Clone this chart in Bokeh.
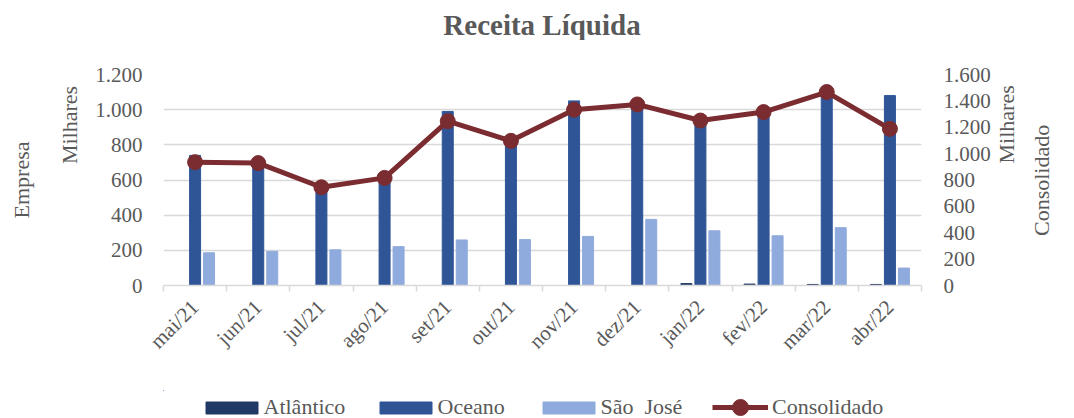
import math
from bokeh.plotting import figure
from bokeh.layouts import column
from bokeh.models import (Range1d, LinearAxis, FixedTicker, CustomJSTickFormatter,
                          Legend, LegendItem, ColumnDataSource, Label)
from bokeh.transform import dodge
from bokeh.embed import file_html
from bokeh.resources import INLINE

months = ["mai/21", "jun/21", "jul/21", "ago/21", "set/21", "out/21",
          "nov/21", "dez/21", "jan/22", "fev/22", "mar/22", "abr/22"]
atlantico = [0, 0, 0, 0, 0, 0, 0, 0, 11, 8, 6, 6]
oceano = [740, 700, 570, 600, 990, 830, 1050, 1020, 945, 975, 1095, 1080]
sao_jose = [186, 194, 203, 221, 259, 261, 279, 376, 311, 283, 329, 99]
consolidado = [935, 928, 745, 816, 1246, 1097, 1333, 1373, 1251, 1315, 1467, 1188]
series_names = ["Atlântico", "Oceano", "São  José", "Consolidado"]
title_text = "Receita Líquida"

FONT = "Liberation Serif"
GREY = "#595959"
GRID = "#D9D9D9"
C_ATL = "#203864"
C_OCE = "#2F5597"
C_SJ = "#8FAADC"
C_CON = "#7B2C30"

xs = list(range(len(months)))
src = ColumnDataSource(dict(x=xs, atl=atlantico, oce=oceano, sj=sao_jose, con=consolidado))

W = 1074
H_TIT, H_MAIN, H_LEG = 40, 350, 28
L, R, T, B = 163, 153, 34, 105
NBSP = "\u00a0"  # padding used to slide the rotated captions along their axis

# ---- title strip (text lies inside this strip's frame)
tf = figure(width=W, height=H_TIT, output_backend="svg", toolbar_location=None, title=None,
            x_range=Range1d(0, 1), y_range=Range1d(0, 1),
            min_border=0, x_axis_location=None, y_axis_location=None)
tf.outline_line_color = None
tf.grid.visible = False
tf.background_fill_color = "white"
tf.border_fill_color = "white"
tf.add_layout(Label(x=541.5 - L, y=16, x_units="screen", y_units="screen", text=title_text,
                    text_font=FONT, text_font_size="29px", text_font_style="bold",
                    text_color=GREY, text_align="center", text_baseline="alphabetic"))

# ---- main chart
p = figure(width=W, height=H_MAIN, output_backend="svg", toolbar_location=None, title=None,
           x_range=Range1d(-0.5, len(months) - 0.5), y_range=Range1d(0, 1200),
           min_border_left=L, min_border_right=R, min_border_top=T, min_border_bottom=B,
           x_axis_location=None, y_axis_location=None)
p.outline_line_color = None
p.background_fill_color = "white"
p.border_fill_color = "white"
p.extra_y_ranges = {"cons": Range1d(0, 1600)}

bw = 0.174
off = 0.2216
r_atl = p.vbar(x=dodge("x", -off), top="atl", width=bw, source=src, color=C_ATL)
r_oce = p.vbar(x="x", top="oce", width=bw, source=src, color=C_OCE)
r_sj = p.vbar(x=dodge("x", off), top="sj", width=bw, source=src, color=C_SJ)
r_line = p.line(x="x", y="con", source=src, y_range_name="cons", line_color=C_CON, line_width=5)
r_pts = p.scatter(x="x", y="con", source=src, y_range_name="cons", size=15,
                  fill_color=C_CON, line_color=C_CON)

fmt_code = "return Math.round(tick).toString().replace(/\\B(?=(\\d{3})+(?!\\d))/g, '.');"

def style_label(ax, size="22px"):
    ax.axis_label_text_font = FONT
    ax.axis_label_text_font_size = size
    ax.axis_label_text_color = GREY
    ax.axis_label_text_font_style = "normal"

def no_ticks(ax):
    ax.axis_line_color = None
    ax.major_tick_line_color = None
    ax.major_tick_out = 0
    ax.major_tick_in = 0
    ax.minor_tick_line_color = None
    ax.minor_tick_out = 0
    ax.minor_tick_in = 0

yl = LinearAxis(ticker=FixedTicker(ticks=list(range(0, 1201, 200))),
                formatter=CustomJSTickFormatter(code=fmt_code))
yr = LinearAxis(y_range_name="cons", ticker=FixedTicker(ticks=list(range(0, 1601, 200))),
                formatter=CustomJSTickFormatter(code=fmt_code))
for ax, st, lst, lab in ((yl, 21, 10, NBSP * 20 + "Milhares"),
                         (yr, 22, 13, NBSP * 3 + "Milhares")):
    no_ticks(ax)
    ax.major_label_text_font = FONT
    ax.major_label_text_font_size = "21px"
    ax.major_label_text_color = GREY
    ax.major_label_standoff = st
    ax.axis_label = lab
    ax.axis_label_standoff = lst
    style_label(ax)
yr.axis_label_orientation = math.pi / 2
p.add_layout(yl, "left")
p.add_layout(yr, "right")

def outer_axis(text, side, standoff, align="center"):
    ax = LinearAxis(ticker=FixedTicker(ticks=[]), axis_label=text,
                    y_range_name="default" if side == "left" else "cons")
    no_ticks(ax)
    ax.major_label_standoff = 0
    ax.axis_label_standoff = standoff
    ax.axis_label_align = align
    if side == "right":
        ax.axis_label_orientation = math.pi / 2
    style_label(ax)
    p.add_layout(ax, side)

outer_axis("Empresa", "left", 21)
outer_axis(NBSP * 9 + "Consolidado", "right", 7, align="start")

xa = LinearAxis(ticker=FixedTicker(ticks=xs, minor_ticks=[i - 0.5 for i in range(len(months) + 1)]))
xa.major_label_overrides = {i: m for i, m in enumerate(months)}
xa.major_label_orientation = math.pi / 4
xa.major_label_text_font = FONT
xa.major_label_text_font_size = "21px"
xa.major_label_text_color = GREY
xa.major_label_standoff = 12
xa.major_tick_line_color = None
xa.axis_line_color = GRID
xa.axis_line_width = 1.5
xa.minor_tick_line_color = GRID
xa.minor_tick_line_width = 1.5
xa.minor_tick_in = 0
xa.minor_tick_out = 6
p.add_layout(xa, "below")

p.xgrid.visible = False
p.ygrid.ticker = FixedTicker(ticks=list(range(0, 1201, 200)))
p.ygrid.grid_line_color = GRID
p.ygrid.grid_line_width = 1.5

# ---- legend strip (its frame is aligned with the main frame, x 163..921)
lf = figure(width=W, height=H_LEG, output_backend="svg", toolbar_location=None, title=None,
            x_range=Range1d(100, 200), y_range=Range1d(-10, -9),
            min_border=0, x_axis_location=None, y_axis_location=None)
lf.outline_line_color = None
lf.grid.visible = False
lf.background_fill_color = "white"
lf.border_fill_color = "white"

# proxy renderers (same data, outside the strip's visible range) for the legend swatches
d_atl = lf.vbar(x=xs, top=atlantico, width=bw, color=C_ATL)
d_oce = lf.vbar(x=xs, top=oceano, width=bw, color=C_OCE)
d_sj = lf.vbar(x=xs, top=sao_jose, width=bw, color=C_SJ)
d_line = lf.line(x=xs, y=consolidado, line_color=C_CON, line_width=5)
d_pts = lf.scatter(x=xs, y=consolidado, size=16, fill_color=C_CON, line_color=C_CON)

def leg(label, renderers, x, y, gw, gh, standoff):
    lg = Legend(items=[LegendItem(label=label, renderers=renderers)],
                location=(x - L, y), orientation="horizontal",
                glyph_width=gw, glyph_height=gh, label_standoff=standoff, padding=0, margin=0,
                border_line_color=None, background_fill_alpha=0,
                label_text_font=FONT, label_text_font_size="22px", label_text_color=GREY)
    lf.add_layout(lg, "center")

# area swatches are inset by 10% of the glyph box: 65x15 box -> 52x12 swatch
leg(series_names[0], [d_atl], 198.5, -2, 65, 15, 0)
leg(series_names[1], [d_oce], 372.5, -2, 65, 15, 0)
leg(series_names[2], [d_sj], 535.5, -2, 65, 15, 0)
leg(series_names[3], [d_line], 712, -2, 56, 12, 4)
leg(" ", [d_pts], 720, -9, 40, 40, 0)

open("out.html", "w").write(file_html(column(tf, p, lf), INLINE))
